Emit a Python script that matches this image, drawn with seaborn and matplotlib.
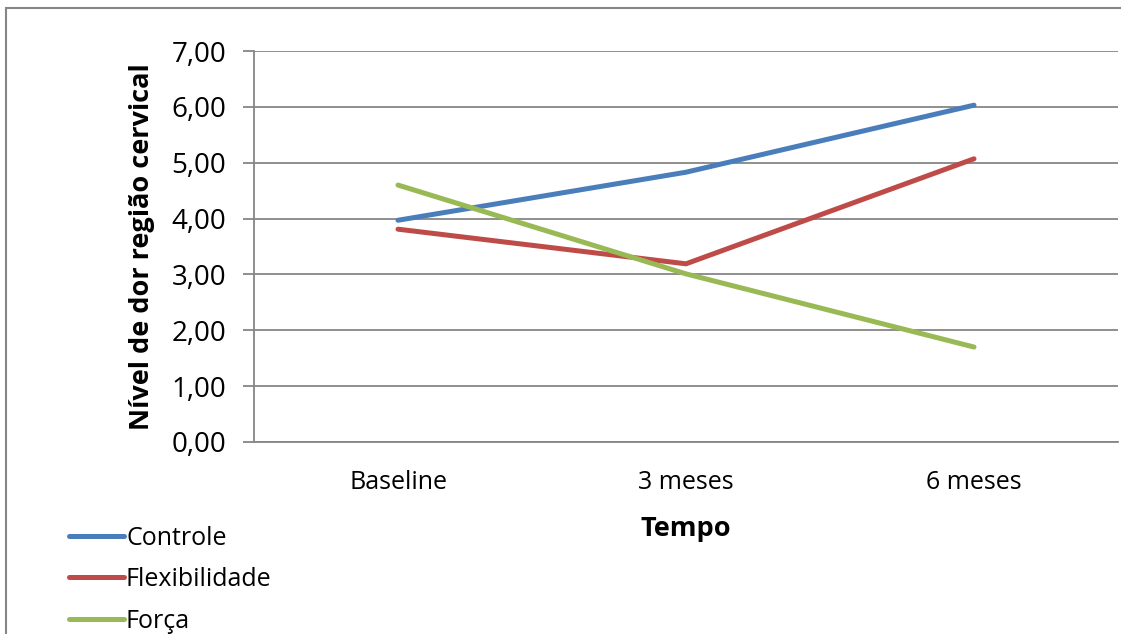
import matplotlib
matplotlib.use("Agg")
import matplotlib.pyplot as plt
import seaborn as sns
import pandas as pd
from matplotlib.patches import Rectangle
from matplotlib.ticker import FixedLocator, FuncFormatter

categories = ["Baseline", "3 meses", "6 meses"]
controle = [3.97, 4.83, 6.03]
flexibilidade = [3.81, 3.19, 5.07]
forca = [4.60, 3.01, 1.70]
series_names = ["Controle", "Flexibilidade", "Força"]
colors = ["#4A7EBB", "#BE4B48", "#98B954"]

rows = []
for name, vals in zip(series_names, [controle, flexibilidade, forca]):
    for c, v in zip(categories, vals):
        rows.append({"Tempo": c, "valor": v, "grupo": name})
df = pd.DataFrame(rows)

sns.set_style("white")
plt.rcParams["font.family"] = ["Open Sans", "DejaVu Sans"]
plt.rcParams["text.color"] = "black"
plt.rcParams["axes.labelcolor"] = "black"
plt.rcParams["xtick.color"] = "black"
plt.rcParams["ytick.color"] = "black"

fig = plt.figure(figsize=(11.21, 6.34), dpi=100)
ax = fig.add_axes([254/1121, 1-442/634, (1118-254)/1121, (442-51)/634])

sns.lineplot(data=df, x="Tempo", y="valor", hue="grupo", hue_order=series_names,
             palette=colors, linewidth=3.6, sort=False, ax=ax, legend=True)
for ln in ax.get_lines():
    ln.set_solid_capstyle("round")
    ln.set_solid_joinstyle("round")

ax.set_xlim(-0.5, 2.5)
ax.set_ylim(0, 7)
ax.set_yticks(range(0, 8))
ax.yaxis.set_major_formatter(FuncFormatter(lambda v, p: f"{v:.2f}".replace(".", ",")))
ax.grid(axis="y", color="#868686", linewidth=1.3)
ax.set_axisbelow(True)

ax.set_xticks(range(len(categories)))
ax.set_xticklabels(categories)
ax.xaxis.set_minor_locator(FixedLocator([-0.5, 0.5, 1.5, 2.5]))
ax.tick_params(axis="x", which="major", length=0, pad=20, labelsize=18, labelcolor="black")
ax.tick_params(axis="x", which="minor", length=7, width=1.3, color="#868686")
ax.tick_params(axis="y", length=8, width=1.3, color="#868686", labelsize=20, pad=12,
               left=True, labelcolor="black")

for s in ["top", "right"]:
    ax.spines[s].set_visible(False)
for s in ["left", "bottom"]:
    ax.spines[s].set_color("#868686")
    ax.spines[s].set_linewidth(1.3)

ax.set_xlabel("Tempo", fontsize=19.5, fontweight="bold", labelpad=15, color="black")
ax.set_ylabel("Nível de dor região cervical", fontsize=19.5, fontweight="bold", labelpad=12,
              color="black")

handles, labels = ax.get_legend_handles_labels()
leg = ax.legend(handles, labels, loc="lower left", bbox_to_anchor=(56/1121, -0.019),
                bbox_transform=fig.transFigure, frameon=False, fontsize=18,
                handlelength=2.2, handletextpad=0.1, labelspacing=0.66, borderaxespad=0.1)
for t in leg.get_texts():
    t.set_color("black")

fig.patches.append(Rectangle((6/1121, -0.05), 1.2, 1-8/634+0.05, transform=fig.transFigure,
                             fill=False, edgecolor="#868686", linewidth=1.5))

fig.savefig("out.png", dpi=100)
